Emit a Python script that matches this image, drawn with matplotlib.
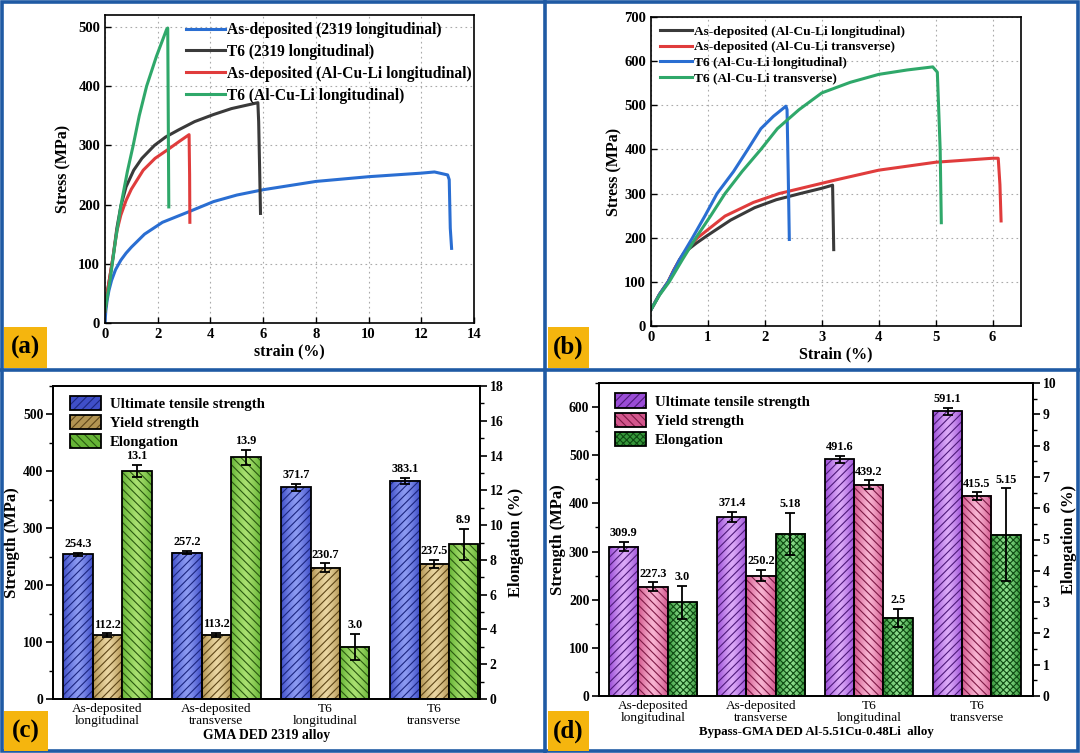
import numpy as np
import matplotlib
matplotlib.use('Agg')
import matplotlib.pyplot as plt
from matplotlib.colors import LinearSegmentedColormap
from matplotlib.patches import Patch, Rectangle
from matplotlib.lines import Line2D
from matplotlib.legend_handler import HandlerTuple
from matplotlib.ticker import MultipleLocator

plt.rcParams['font.family'] = 'Liberation Serif'
plt.rcParams['font.weight'] = 'bold'
plt.rcParams['axes.labelweight'] = 'bold'
plt.rcParams['hatch.linewidth'] = 0.8

# ---- (a) stress-strain curves ----
a_blue_x = [0, 0.03, 0.08, 0.15, 0.25, 0.4, 0.6, 0.8, 1.0, 1.5, 2.18, 3.19, 4.12, 5, 6, 7, 8, 9, 10, 11, 12, 12.5, 13.0, 13.06, 13.1, 13.15]
a_blue_y = [0, 20, 38, 55, 72, 90, 106, 118, 128, 150, 170, 188, 205, 216, 225, 232, 239, 243, 247, 250, 253, 255, 250, 242, 160, 126]
a_black_x = [0, 0.1, 0.3, 0.45, 0.6, 0.8, 1.09, 1.4, 1.88, 2.3, 2.79, 3.4, 4.12, 4.8, 5.4, 5.8, 5.83, 5.86, 5.9]
a_black_y = [20, 55, 110, 160, 197, 230, 258, 278, 300, 314, 326, 340, 352, 362, 368, 372, 340, 275, 185]
a_red_x = [0, 0.1, 0.3, 0.45, 0.6, 0.8, 1.0, 1.45, 1.9, 2.36, 2.8, 3.19, 3.21, 3.22]
a_red_y = [20, 55, 110, 155, 182, 207, 226, 258, 278, 292, 306, 318, 250, 170]
a_green_x = [0, 0.2, 0.4, 0.61, 0.85, 1.07, 1.3, 1.58, 1.95, 2.34, 2.38, 2.4, 2.42]
a_green_y = [20, 75, 140, 200, 256, 300, 350, 400, 450, 496, 498, 350, 196]

# ---- (b) stress-strain curves ----
b_black_x = [0, 0.15, 0.3, 0.4, 0.5, 0.6, 0.8, 0.99, 1.4, 1.82, 2.2, 2.62, 3.0, 3.19, 3.2, 3.21]
b_black_y = [37, 72, 100, 126, 150, 168, 188, 205, 240, 268, 286, 300, 312, 319, 250, 173]
b_red_x = [0, 0.15, 0.3, 0.4, 0.56, 0.7, 0.82, 1.3, 1.8, 2.25, 3.25, 4, 5, 6, 6.1, 6.13, 6.15]
b_red_y = [37, 72, 100, 127, 162, 184, 200, 249, 280, 300, 331, 353, 371, 380, 380, 320, 238]
b_blue_x = [0, 0.15, 0.3, 0.5, 0.73, 0.95, 1.16, 1.45, 1.7, 1.93, 2.15, 2.37, 2.39, 2.41, 2.43]
b_blue_y = [37, 72, 100, 150, 200, 250, 300, 350, 400, 447, 475, 498, 490, 350, 196]
b_green_x = [0, 0.15, 0.32, 0.55, 0.79, 1.05, 1.3, 1.6, 1.93, 2.22, 2.6, 3.0, 3.5, 4.0, 4.5, 4.95, 5.03, 5.08, 5.1]
b_green_y = [37, 70, 100, 150, 200, 250, 300, 350, 400, 447, 490, 528, 552, 570, 580, 587, 575, 400, 234]

# ---- (c) GMA DED 2319 ----
cats = ['As-deposited\nlongitudinal', 'As-deposited\ntransverse', 'T6\nlongitudinal', 'T6\ntransverse']
c_uts = [254.3, 257.2, 371.7, 383.1]
c_uts_err = [2.5, 2.5, 6, 5]
c_ys = [112.2, 113.2, 230.7, 237.5]
c_ys_err = [3, 3.5, 7.5, 7]
c_el = [13.1, 13.9, 3.0, 8.9]
c_el_err = [0.35, 0.44, 0.75, 0.9]

# ---- (d) Bypass-GMA DED Al-5.51Cu-0.48Li ----
d_uts = [309.9, 371.4, 491.6, 591.1]
d_uts_err = [9.5, 11, 7.5, 7]
d_ys = [227.3, 250.2, 439.2, 415.5]
d_ys_err = [8.5, 12, 8.5, 7.5]
d_el = ['3.0', '5.18', '2.5', '5.15']
d_el_val = [3.0, 5.18, 2.5, 5.15]
d_el_err = [0.53, 0.66, 0.29, 1.48]

BLUE = '#2a6ed2'
BLACK = '#3a3a3a'
RED = '#e03c3c'
GREEN = '#2fa86a'

fig = plt.figure(figsize=(10.8, 7.53), dpi=100)
W, H = 1080, 753


def box(l, t, r, b):
    return [l / W, 1 - b / H, (r - l) / W, (b - t) / H]


def curve_axes(ax):
    ax.tick_params(direction='in', length=4, width=1, labelsize=10.5)
    ax.grid(True, linestyle=(0, (1.5, 3)), color='#aaaaaa', linewidth=0.8)
    for s in ax.spines.values():
        s.set_linewidth(1.2)


# (a)
axa = fig.add_axes(box(105, 15, 474, 323))
axa.plot(a_blue_x, a_blue_y, color=BLUE, lw=2.2, label='As-deposited (2319 longitudinal)')
axa.plot(a_black_x, a_black_y, color=BLACK, lw=2.2, label='T6 (2319 longitudinal)')
axa.plot(a_red_x, a_red_y, color=RED, lw=2.2, label='As-deposited (Al-Cu-Li longitudinal)')
axa.plot(a_green_x, a_green_y, color=GREEN, lw=2.2, label='T6 (Al-Cu-Li longitudinal)')
axa.set_xlim(0, 14)
axa.set_ylim(0, 520)
axa.set_xticks(range(0, 15, 2))
axa.set_yticks(range(0, 501, 100))
axa.set_xlabel('strain (%)', fontsize=11.5, labelpad=2)
axa.set_ylabel('Stress (MPa)', fontsize=11.5, labelpad=5)
curve_axes(axa)
axa.legend(loc='upper left', bbox_to_anchor=(0.2, 1.0), frameon=False, fontsize=11.2,
           handlelength=2.5, handletextpad=0.15, labelspacing=0.38, borderaxespad=0.05)

# (b)
axb = fig.add_axes(box(651, 17, 1021, 326))
axb.plot(b_black_x, b_black_y, color=BLACK, lw=2.2, label='As-deposited (Al-Cu-Li longitudinal)')
axb.plot(b_red_x, b_red_y, color=RED, lw=2.2, label='As-deposited (Al-Cu-Li transverse)')
axb.plot(b_blue_x, b_blue_y, color=BLUE, lw=2.2, label='T6 (Al-Cu-Li longitudinal)')
axb.plot(b_green_x, b_green_y, color=GREEN, lw=2.2, label='T6 (Al-Cu-Li transverse)')
axb.set_xlim(0, 6.5)
axb.set_ylim(0, 700)
axb.set_xticks(range(0, 7))
axb.set_yticks(range(0, 701, 100))
axb.set_xlabel('Strain (%)', fontsize=11.5, labelpad=2)
axb.set_ylabel('Stress (MPa)', fontsize=11.5, labelpad=1)
curve_axes(axb)
axb.legend(loc='upper left', bbox_to_anchor=(0.005, 0.995), frameon=False, fontsize=9.6,
           handlelength=2.4, handletextpad=0.2, labelspacing=0.25, borderaxespad=0.1)


def grad_bars(ax, xs, vals, errs, w, base, light, hcol, hatch, labels):
    cmap = LinearSegmentedColormap.from_list('g', [light, base])
    g = np.abs(np.linspace(-1, 1, 64))[None, :] ** 1.3
    for x, v in zip(xs, vals):
        ax.imshow(g, extent=[x - w / 2, x + w / 2, 0, v], aspect='auto', cmap=cmap,
                  interpolation='bilinear', zorder=1, vmin=0, vmax=1)
    ax.bar(xs, vals, w, color='none', edgecolor=hcol, hatch=hatch, linewidth=0, zorder=2)
    ax.bar(xs, vals, w, color='none', edgecolor='black', linewidth=1.3, zorder=3)
    ax.errorbar(xs, vals, yerr=errs, fmt='none', ecolor='black', elinewidth=1.3,
                capsize=3.5, capthick=1.3, zorder=4)
    for x, v, e, t in zip(xs, vals, errs, labels):
        ax.annotate(t, (x, v + e), xytext=(0, 2), textcoords='offset points',
                    ha='center', va='bottom', fontsize=8.8, fontweight='bold', zorder=5)
    return (Patch(facecolor=base, edgecolor=hcol, hatch=hatch, linewidth=0),
            Patch(facecolor='none', edgecolor='black', linewidth=1.3))


def bar_axes(ax, ax2, ymax, ytick, yminor, emax, etick, eminor, xlab, xlfs, xlim):
    ax.set_xlim(*xlim)
    ax.set_ylim(0, ymax)
    ax2.set_ylim(0, emax)
    ax.set_xticks(range(4))
    ax.set_xticklabels(cats, fontweight='normal', fontsize=9.6, linespacing=1.0)
    ax.tick_params(axis='x', length=0, pad=3)
    ax.yaxis.set_major_locator(MultipleLocator(ytick))
    ax.yaxis.set_minor_locator(MultipleLocator(yminor))
    ax2.yaxis.set_major_locator(MultipleLocator(etick))
    ax2.yaxis.set_minor_locator(MultipleLocator(eminor))
    for a in (ax, ax2):
        a.tick_params(axis='y', which='major', direction='out', length=5, width=1.2,
                      labelsize=9.8, pad=2)
        a.tick_params(axis='y', which='minor', direction='out', length=3, width=1.0)
        for s in a.spines.values():
            s.set_linewidth(1.3)
    ax.set_ylabel('Strength (MPa)', fontsize=12, labelpad=2)
    ax2.set_ylabel('Elongation (%)', fontsize=12, labelpad=3)
    ax.set_xlabel(xlab, fontsize=xlfs, labelpad=1)


xs = np.arange(4)
w = 0.27
leg_kw = dict(handler_map={tuple: HandlerTuple(ndivide=1)}, loc='upper left', frameon=False,
              fontsize=10.6, handlelength=2.1, handleheight=1.1, handletextpad=0.6,
              labelspacing=0.28, borderaxespad=0.1)
names = ['Ultimate tensile strength', 'Yield strength', 'Elongation']

# (c)
axc = fig.add_axes(box(53, 386, 480, 699))
axc2 = axc.twinx()
h1 = grad_bars(axc, xs - w, c_uts, c_uts_err, w, '#3f4fc8', '#8c9af2', '#1c2680', '////',
               ['%.1f' % v for v in c_uts])
h2 = grad_bars(axc, xs, c_ys, c_ys_err, w, '#b29452', '#ead6a2', '#5e4618', '////',
               ['%.1f' % v for v in c_ys])
h3 = grad_bars(axc2, xs + w, c_el, c_el_err, w, '#66b436', '#a9e070', '#2a5a10', '\\\\\\\\',
               ['%.1f' % v for v in c_el])
bar_axes(axc, axc2, 550, 100, 50, 18, 2, 1, 'GMA DED 2319 alloy', 9.8, (-0.5, 3.42))
axc2.legend([h1, h2, h3], names, bbox_to_anchor=(0.022, 0.992), **leg_kw)

# (d)
axd = fig.add_axes(box(599, 383, 1033, 696))
axd2 = axd.twinx()
g1 = grad_bars(axd, xs - w, d_uts, d_uts_err, w, '#9a4cd6', '#dcaaf8', '#4e1a7a', '////',
               ['%.1f' % v for v in d_uts])
g2 = grad_bars(axd, xs, d_ys, d_ys_err, w, '#d2568c', '#f8b4d2', '#7e1a46', '\\\\\\\\',
               ['%.1f' % v for v in d_ys])
g3 = grad_bars(axd2, xs + w, d_el_val, d_el_err, w, '#36963a', '#8ede8e', '#0e4a12', 'xxxxx',
               d_el)
bar_axes(axd, axd2, 650, 100, 50, 10, 1, 0.5, 'Bypass-GMA DED Al-5.51Cu-0.48Li  alloy', 9.3,
         (-0.5, 3.52))
axd2.legend([g1, g2, g3], names, bbox_to_anchor=(0.02, 0.99), **leg_kw)

# panel frames
FRAME = '#1f5aa4'
fig.add_artist(Rectangle((0.002, 0.003), 0.996, 0.994, transform=fig.transFigure,
                         fill=False, edgecolor=FRAME, linewidth=2.6))
fig.add_artist(Line2D([545 / W, 545 / W], [0, 1], transform=fig.transFigure, color=FRAME, lw=2.6))
fig.add_artist(Line2D([0, 1], [1 - 370 / H, 1 - 370 / H], transform=fig.transFigure, color=FRAME, lw=2.6))

# panel letters
for lab, l, t, r, b in [('(a)', 4, 327, 47, 368), ('(b)', 548, 327, 589, 368),
                        ('(c)', 4, 711, 48, 751), ('(d)', 548, 711, 589, 751)]:
    x0, y0, ww, hh = box(l, t, r, b)
    fig.add_artist(Rectangle((x0, y0), ww, hh, transform=fig.transFigure,
                             facecolor='#f5b50e', edgecolor='none'))
    fig.text(x0 + ww / 2, y0 + hh / 2, lab, ha='center', va='center', fontsize=18,
             fontweight='bold')

fig.savefig('out.png', dpi=100)
